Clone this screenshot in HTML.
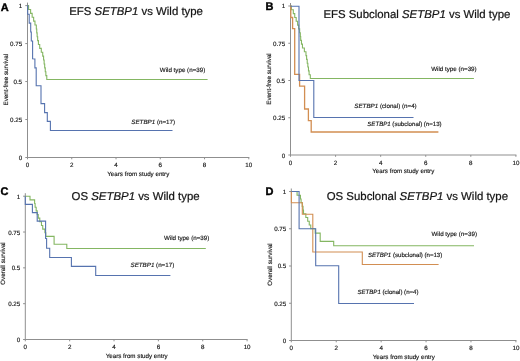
<!DOCTYPE html>
<html><head><meta charset="utf-8"><style>
html,body{margin:0;padding:0;background:#fff;}
svg{display:block;font-family:"Liberation Sans",sans-serif;will-change:transform;text-rendering:geometricPrecision;}
text{fill:#151515;}
.s{stroke:#151515;stroke-width:0.15px;}
.t{stroke:#151515;stroke-width:0.22px;}
.L{stroke:#000;stroke-width:0.4px;fill:#000;}
</style></head><body>
<svg width="520" height="361" viewBox="0 0 520 361">
<rect width="520" height="361" fill="#fff"/>
<line x1="27.50" y1="2.60" x2="27.50" y2="158.00" stroke="#8f8f8f" stroke-width="1"/>
<line x1="27.00" y1="157.50" x2="249.30" y2="157.50" stroke="#8f8f8f" stroke-width="1"/>
<line x1="25.30" y1="157.50" x2="27.50" y2="157.50" stroke="#8f8f8f" stroke-width="1"/>
<text x="22.10" y="160" font-size="6.22" text-anchor="end" class="s">0</text>
<line x1="25.30" y1="119.53" x2="27.50" y2="119.53" stroke="#8f8f8f" stroke-width="1"/>
<text x="22.10" y="122" font-size="6.22" text-anchor="end" class="s">0.25</text>
<line x1="25.30" y1="81.55" x2="27.50" y2="81.55" stroke="#8f8f8f" stroke-width="1"/>
<text x="22.10" y="84" font-size="6.22" text-anchor="end" class="s">0.5</text>
<line x1="25.30" y1="43.57" x2="27.50" y2="43.57" stroke="#8f8f8f" stroke-width="1"/>
<text x="22.10" y="46" font-size="6.22" text-anchor="end" class="s">0.75</text>
<line x1="25.30" y1="5.60" x2="27.50" y2="5.60" stroke="#8f8f8f" stroke-width="1"/>
<text x="22.10" y="8" font-size="6.22" text-anchor="end" class="s">1</text>
<line x1="27.50" y1="157.50" x2="27.50" y2="159.30" stroke="#8f8f8f" stroke-width="1"/>
<text x="27.50" y="167" font-size="6.22" text-anchor="middle" class="s">0</text>
<line x1="71.76" y1="157.50" x2="71.76" y2="159.30" stroke="#8f8f8f" stroke-width="1"/>
<text x="71.76" y="167" font-size="6.22" text-anchor="middle" class="s">2</text>
<line x1="116.02" y1="157.50" x2="116.02" y2="159.30" stroke="#8f8f8f" stroke-width="1"/>
<text x="116.02" y="167" font-size="6.22" text-anchor="middle" class="s">4</text>
<line x1="160.28" y1="157.50" x2="160.28" y2="159.30" stroke="#8f8f8f" stroke-width="1"/>
<text x="160.28" y="167" font-size="6.22" text-anchor="middle" class="s">6</text>
<line x1="204.54" y1="157.50" x2="204.54" y2="159.30" stroke="#8f8f8f" stroke-width="1"/>
<text x="204.54" y="167" font-size="6.22" text-anchor="middle" class="s">8</text>
<line x1="248.80" y1="157.50" x2="248.80" y2="159.30" stroke="#8f8f8f" stroke-width="1"/>
<text x="248.80" y="167" font-size="6.22" text-anchor="middle" class="s">10</text>
<text x="138.30" y="176" font-size="6.22" text-anchor="middle" class="s">Years from study entry</text>
<text class="s" x="0" y="0" font-size="6.22" text-anchor="middle" transform="translate(8.4,79.7) rotate(-90)">Event-free survival</text>
<text x="0.80" y="11" font-size="11" class="L" font-weight="bold">A</text>
<text x="69.20" y="15" font-size="11.42" class="t">EFS <tspan font-style="italic">SETBP1</tspan> vs Wild type</text>
<path d="M27.50,5.60 L28.59,5.60 L28.59,9.49 L30.61,9.49 L30.61,13.38 L32.15,13.38 L32.15,17.27 L33.64,17.27 L33.64,21.16 L34.97,21.16 L34.97,25.05 L36.32,25.05 L36.32,28.94 L36.74,28.94 L36.74,32.83 L37.15,32.83 L37.15,36.72 L37.66,36.72 L37.66,40.61 L38.42,40.61 L38.42,44.49 L39.71,44.49 L39.71,48.38 L41.29,48.38 L41.29,52.27 L42.72,52.27 L42.72,56.16 L43.59,56.16 L43.59,60.05 L44.14,60.05 L44.14,63.94 L44.69,63.94 L44.69,67.83 L45.27,67.83 L45.27,71.72 L45.86,71.72 L45.86,75.61 L46.78,75.61 L46.78,79.50 L207.60,79.50" fill="none" stroke="#84b662" stroke-width="1.1"/>
<path d="M27.50,5.60 L27.70,5.60 L27.70,14.20 L29.20,14.20 L29.20,23.10 L30.70,23.10 L30.70,32.00 L31.30,32.00 L31.30,41.00 L32.60,41.00 L32.60,58.80 L34.90,59.00 L34.90,67.90 L36.20,67.90 L36.20,85.70 L41.00,85.70 L41.00,103.60 L44.60,103.60 L44.60,112.60 L47.30,112.60 L47.30,121.40 L50.40,121.40 L50.40,130.50 L172.50,130.50" fill="none" stroke="#5673af" stroke-width="1.1"/>
<text x="159.80" y="72" font-size="6.22" class="s">Wild type (n=39)</text>
<text x="131.30" y="124" font-size="6.22" class="s"><tspan font-style="italic">SETBP1</tspan> (n=17)</text>
<line x1="290.50" y1="3.00" x2="290.50" y2="155.50" stroke="#8f8f8f" stroke-width="1"/>
<line x1="290.00" y1="155.00" x2="516.40" y2="155.00" stroke="#8f8f8f" stroke-width="1"/>
<line x1="288.30" y1="155.00" x2="290.50" y2="155.00" stroke="#8f8f8f" stroke-width="1"/>
<text x="285.10" y="158" font-size="6.22" text-anchor="end" class="s">0</text>
<line x1="288.30" y1="117.75" x2="290.50" y2="117.75" stroke="#8f8f8f" stroke-width="1"/>
<text x="285.10" y="120" font-size="6.22" text-anchor="end" class="s">0.25</text>
<line x1="288.30" y1="80.50" x2="290.50" y2="80.50" stroke="#8f8f8f" stroke-width="1"/>
<text x="285.10" y="83" font-size="6.22" text-anchor="end" class="s">0.5</text>
<line x1="288.30" y1="43.25" x2="290.50" y2="43.25" stroke="#8f8f8f" stroke-width="1"/>
<text x="285.10" y="46" font-size="6.22" text-anchor="end" class="s">0.75</text>
<line x1="288.30" y1="6.00" x2="290.50" y2="6.00" stroke="#8f8f8f" stroke-width="1"/>
<text x="285.10" y="8" font-size="6.22" text-anchor="end" class="s">1</text>
<line x1="290.50" y1="155.00" x2="290.50" y2="156.80" stroke="#8f8f8f" stroke-width="1"/>
<text x="290.50" y="165" font-size="6.22" text-anchor="middle" class="s">0</text>
<line x1="335.58" y1="155.00" x2="335.58" y2="156.80" stroke="#8f8f8f" stroke-width="1"/>
<text x="335.58" y="165" font-size="6.22" text-anchor="middle" class="s">2</text>
<line x1="380.66" y1="155.00" x2="380.66" y2="156.80" stroke="#8f8f8f" stroke-width="1"/>
<text x="380.66" y="165" font-size="6.22" text-anchor="middle" class="s">4</text>
<line x1="425.74" y1="155.00" x2="425.74" y2="156.80" stroke="#8f8f8f" stroke-width="1"/>
<text x="425.74" y="165" font-size="6.22" text-anchor="middle" class="s">6</text>
<line x1="470.82" y1="155.00" x2="470.82" y2="156.80" stroke="#8f8f8f" stroke-width="1"/>
<text x="470.82" y="165" font-size="6.22" text-anchor="middle" class="s">8</text>
<line x1="515.90" y1="155.00" x2="515.90" y2="156.80" stroke="#8f8f8f" stroke-width="1"/>
<text x="515.90" y="165" font-size="6.22" text-anchor="middle" class="s">10</text>
<text x="403.30" y="173" font-size="6.22" text-anchor="middle" class="s">Years from study entry</text>
<text class="s" x="0" y="0" font-size="6.22" text-anchor="middle" transform="translate(271.2,79.0) rotate(-90)">Event-free survival</text>
<text x="265.50" y="10" font-size="11" class="L" font-weight="bold">B</text>
<text x="323.40" y="18" font-size="11.42" class="t">EFS Subclonal <tspan font-style="italic">SETBP1</tspan> vs Wild type</text>
<path d="M290.40,6.00 L291.41,6.00 L291.41,9.82 L293.31,9.82 L293.31,13.63 L294.74,13.63 L294.74,17.45 L296.18,17.45 L296.18,21.26 L297.61,21.26 L297.61,25.08 L298.70,25.08 L298.70,28.89 L299.65,28.89 L299.65,32.71 L300.33,32.71 L300.33,36.53 L300.69,36.53 L300.69,40.34 L301.47,40.34 L301.47,44.16 L302.47,44.16 L302.47,47.97 L304.37,47.97 L304.37,51.79 L305.98,51.79 L305.98,55.61 L306.60,55.61 L306.60,59.42 L307.23,59.42 L307.23,63.24 L307.85,63.24 L307.85,67.05 L308.48,67.05 L308.48,70.87 L309.10,70.87 L309.10,74.68 L310.32,74.68 L310.32,78.50 L473.90,78.50" fill="none" stroke="#84b662" stroke-width="1.1"/>
<path d="M290.40,6.00 L290.80,6.00 L290.80,17.50 L292.60,17.50 L292.60,28.70 L294.70,28.70 L294.70,74.40 L299.60,74.40 L299.60,86.20 L304.60,86.20 L304.60,109.00 L308.40,109.00 L308.40,120.70 L311.20,120.70 L311.20,132.00 L438.40,132.00" fill="none" stroke="#d28e52" stroke-width="1.3"/>
<path d="M290.40,6.20 L299.00,6.20 L299.00,80.50 L313.80,80.50 L313.80,117.50 L413.50,117.50" fill="none" stroke="#5673af" stroke-width="1.1"/>
<text x="431.20" y="71" font-size="6.22" class="s">Wild type (n=39)</text>
<text x="354.30" y="108" font-size="6.22" class="s"><tspan font-style="italic">SETBP1</tspan> (clonal) (n=4)</text>
<text x="367.30" y="126" font-size="6.1" class="s"><tspan font-style="italic">SETBP1</tspan> (subclonal) (n=13)</text>
<line x1="25.30" y1="193.20" x2="25.30" y2="340.00" stroke="#8f8f8f" stroke-width="1"/>
<line x1="24.80" y1="339.50" x2="247.60" y2="339.50" stroke="#8f8f8f" stroke-width="1"/>
<line x1="23.10" y1="339.50" x2="25.30" y2="339.50" stroke="#8f8f8f" stroke-width="1"/>
<text x="20.30" y="342" font-size="6.22" text-anchor="end" class="s">0</text>
<line x1="23.10" y1="303.68" x2="25.30" y2="303.68" stroke="#8f8f8f" stroke-width="1"/>
<text x="20.30" y="306" font-size="6.22" text-anchor="end" class="s">0.25</text>
<line x1="23.10" y1="267.85" x2="25.30" y2="267.85" stroke="#8f8f8f" stroke-width="1"/>
<text x="20.30" y="270" font-size="6.22" text-anchor="end" class="s">0.5</text>
<line x1="23.10" y1="232.02" x2="25.30" y2="232.02" stroke="#8f8f8f" stroke-width="1"/>
<text x="20.30" y="235" font-size="6.22" text-anchor="end" class="s">0.75</text>
<line x1="23.10" y1="196.20" x2="25.30" y2="196.20" stroke="#8f8f8f" stroke-width="1"/>
<text x="20.30" y="199" font-size="6.22" text-anchor="end" class="s">1</text>
<line x1="25.30" y1="339.50" x2="25.30" y2="341.30" stroke="#8f8f8f" stroke-width="1"/>
<text x="25.30" y="349" font-size="6.22" text-anchor="middle" class="s">0</text>
<line x1="69.66" y1="339.50" x2="69.66" y2="341.30" stroke="#8f8f8f" stroke-width="1"/>
<text x="69.66" y="349" font-size="6.22" text-anchor="middle" class="s">2</text>
<line x1="114.02" y1="339.50" x2="114.02" y2="341.30" stroke="#8f8f8f" stroke-width="1"/>
<text x="114.02" y="349" font-size="6.22" text-anchor="middle" class="s">4</text>
<line x1="158.38" y1="339.50" x2="158.38" y2="341.30" stroke="#8f8f8f" stroke-width="1"/>
<text x="158.38" y="349" font-size="6.22" text-anchor="middle" class="s">6</text>
<line x1="202.74" y1="339.50" x2="202.74" y2="341.30" stroke="#8f8f8f" stroke-width="1"/>
<text x="202.74" y="349" font-size="6.22" text-anchor="middle" class="s">8</text>
<line x1="247.10" y1="339.50" x2="247.10" y2="341.30" stroke="#8f8f8f" stroke-width="1"/>
<text x="247.10" y="349" font-size="6.22" text-anchor="middle" class="s">10</text>
<text x="136.70" y="358" font-size="6.22" text-anchor="middle" class="s">Years from study entry</text>
<text class="s" x="0" y="0" font-size="6.22" text-anchor="middle" transform="translate(5.1,263.5) rotate(-90)">Overall survival</text>
<text x="0.60" y="195" font-size="11" class="L" font-weight="bold">C</text>
<text x="71.60" y="200" font-size="11.42" class="t">OS <tspan font-style="italic">SETBP1</tspan> vs Wild type</text>
<path d="M25.30,196.20 L30.00,196.20 L30.00,199.90 L34.40,199.90 L34.61,199.90 L34.61,203.55 L35.11,203.55 L35.11,207.20 L36.17,207.20 L36.17,210.85 L37.22,210.85 L37.22,214.50 L38.26,214.50 L38.26,218.15 L39.78,218.15 L39.78,221.80 L41.48,221.80 L41.48,225.45 L42.74,225.45 L42.74,229.10 L44.90,229.10 L44.90,232.75 L45.79,232.75 L45.79,236.40 L54.10,236.40 L54.10,244.20 L66.80,244.20 L66.80,248.50 L205.80,248.50" fill="none" stroke="#84b662" stroke-width="1.1"/>
<path d="M25.30,196.20 L25.30,204.40 L32.40,204.40 L32.40,212.60 L37.20,212.60 L37.20,221.10 L45.60,221.10 L45.60,238.50 L46.60,238.50 L46.60,248.30 L49.70,248.30 L49.70,257.50 L71.40,257.50 L71.40,266.40 L95.70,266.40 L95.70,275.50 L170.40,275.50" fill="none" stroke="#5673af" stroke-width="1.1"/>
<text x="163.90" y="240" font-size="6.22" class="s">Wild type (n=39)</text>
<text x="130.50" y="267" font-size="6.22" class="s"><tspan font-style="italic">SETBP1</tspan> (n=17)</text>
<line x1="291.30" y1="188.50" x2="291.30" y2="341.00" stroke="#8f8f8f" stroke-width="1"/>
<line x1="290.80" y1="340.50" x2="516.40" y2="340.50" stroke="#8f8f8f" stroke-width="1"/>
<line x1="289.10" y1="340.50" x2="291.30" y2="340.50" stroke="#8f8f8f" stroke-width="1"/>
<text x="286.30" y="343" font-size="6.22" text-anchor="end" class="s">0</text>
<line x1="289.10" y1="303.25" x2="291.30" y2="303.25" stroke="#8f8f8f" stroke-width="1"/>
<text x="286.30" y="306" font-size="6.22" text-anchor="end" class="s">0.25</text>
<line x1="289.10" y1="266.00" x2="291.30" y2="266.00" stroke="#8f8f8f" stroke-width="1"/>
<text x="286.30" y="268" font-size="6.22" text-anchor="end" class="s">0.5</text>
<line x1="289.10" y1="228.75" x2="291.30" y2="228.75" stroke="#8f8f8f" stroke-width="1"/>
<text x="286.30" y="231" font-size="6.22" text-anchor="end" class="s">0.75</text>
<line x1="289.10" y1="191.50" x2="291.30" y2="191.50" stroke="#8f8f8f" stroke-width="1"/>
<text x="286.30" y="194" font-size="6.22" text-anchor="end" class="s">1</text>
<line x1="291.30" y1="340.50" x2="291.30" y2="342.30" stroke="#8f8f8f" stroke-width="1"/>
<text x="291.30" y="350" font-size="6.22" text-anchor="middle" class="s">0</text>
<line x1="336.22" y1="340.50" x2="336.22" y2="342.30" stroke="#8f8f8f" stroke-width="1"/>
<text x="336.22" y="350" font-size="6.22" text-anchor="middle" class="s">2</text>
<line x1="381.14" y1="340.50" x2="381.14" y2="342.30" stroke="#8f8f8f" stroke-width="1"/>
<text x="381.14" y="350" font-size="6.22" text-anchor="middle" class="s">4</text>
<line x1="426.06" y1="340.50" x2="426.06" y2="342.30" stroke="#8f8f8f" stroke-width="1"/>
<text x="426.06" y="350" font-size="6.22" text-anchor="middle" class="s">6</text>
<line x1="470.98" y1="340.50" x2="470.98" y2="342.30" stroke="#8f8f8f" stroke-width="1"/>
<text x="470.98" y="350" font-size="6.22" text-anchor="middle" class="s">8</text>
<line x1="515.90" y1="340.50" x2="515.90" y2="342.30" stroke="#8f8f8f" stroke-width="1"/>
<text x="515.90" y="350" font-size="6.22" text-anchor="middle" class="s">10</text>
<text x="403.80" y="359" font-size="6.22" text-anchor="middle" class="s">Years from study entry</text>
<text class="s" x="0" y="0" font-size="6.22" text-anchor="middle" transform="translate(272.0,264.5) rotate(-90)">Overall survival</text>
<text x="265.50" y="195" font-size="11" class="L" font-weight="bold">D</text>
<text x="326.70" y="200" font-size="11.42" class="t">OS Subclonal <tspan font-style="italic">SETBP1</tspan> vs Wild type</text>
<path d="M291.40,191.50 L296.60,191.50 L297.08,191.50 L297.08,195.22 L300.44,195.22 L300.44,198.94 L301.09,198.94 L301.09,202.66 L302.23,202.66 L302.23,206.38 L303.03,206.38 L303.03,210.10 L303.50,210.10 L303.50,213.82 L305.84,213.82 L305.84,217.54 L307.70,217.54 L307.70,221.26 L309.25,221.26 L309.25,224.98 L310.75,224.98 L310.75,228.70 L315.20,228.70 L315.20,233.10 L320.20,233.10 L320.20,241.40 L333.70,241.40 L333.70,245.70 L474.00,245.70" fill="none" stroke="#84b662" stroke-width="1.1"/>
<path d="M291.40,191.50 L291.40,202.70 L302.30,202.70 L302.30,214.30 L312.80,214.30 L312.80,252.00 L362.30,252.00 L362.30,264.50 L438.60,264.50" fill="none" stroke="#d28e52" stroke-width="1.1"/>
<path d="M291.40,191.50 L299.10,191.50 L299.10,228.70 L315.70,228.70 L315.70,265.80 L338.70,265.80 L338.70,303.50 L414.00,303.50" fill="none" stroke="#5673af" stroke-width="1.1"/>
<text x="431.50" y="236" font-size="6.22" class="s">Wild type (n=39)</text>
<text x="367.90" y="257" font-size="6.1" class="s"><tspan font-style="italic">SETBP1</tspan> (subclonal) (n=13)</text>
<text x="357.50" y="294" font-size="6.08" class="s"><tspan font-style="italic">SETBP1</tspan> (clonal) (n=4)</text>
</svg>
</body></html>
